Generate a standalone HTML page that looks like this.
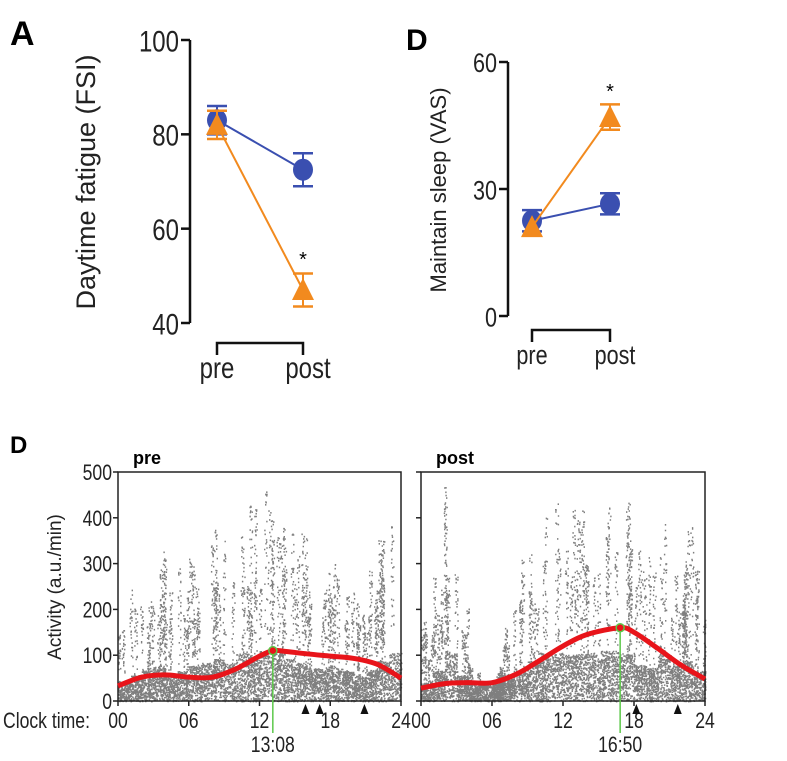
<!DOCTYPE html>
<html><head><meta charset="utf-8"><style>
body{margin:0;background:#fff;width:787px;height:761px;overflow:hidden}
svg{display:block;font-family:"Liberation Sans",sans-serif}
</style></head><body>
<svg id="fig" width="787" height="761">
<text x="10" y="45" font-size="34" font-weight="bold">A</text>
<text x="406" y="50" font-size="30" font-weight="bold">D</text>
<text x="10" y="453" font-size="24" font-weight="bold">D</text>
<g id="pa"></g>
<g id="pd"></g>
<g id="act"></g>
</svg>
<script>
const NS="http://www.w3.org/2000/svg";
function mk(p,t,a){const e=document.createElementNS(NS,t);for(const k in a)e.setAttribute(k,a[k]);p.appendChild(e);return e;}
const SX=0.8;
function txt(p,x,y,str,size,anchor,rot){
 const a={x:x/SX,y:y,"font-size":size,fill:"#222","text-anchor":anchor||"start",transform:`scale(${SX},1)`};
 const t=mk(p,"text",a);t.textContent=str;return t;}
// Panel A data
const groups=["pre","post"];
const fatigueBlue=[83,72.5], fatigueBlueErr=[3,3.5];
const fatigueOrange=[82,47], fatigueOrangeErr=[3,3.5];
const fatigueTicks=[40,60,80,100];
// Panel D data
const sleepBlue=[22.5,26.5], sleepBlueErr=[2.5,2.5];
const sleepOrange=[21,47], sleepOrangeErr=[0,3];
const sleepTicks=[0,30,60];
// Activity data
const hours=[0,2,4,6,8,10,12,13.13,14,16,18,20,22,24];
const preCurve=[33,52,57,52,52,70,98,110,109,103,98,93,80,50];
const hoursPost=[0,2,4,6,8,10,12,14,16.83,18,20,22,24];
const postCurve=[28,38,40,40,58,88,120,145,160,150,115,78,48];
const preMarkers=[15.9,17.1,20.9], postMarkers=[18.2,21.7];
const preSpike=[200,260,320,340,250,300,350,380,420,380,480,440,460,480,420,380,330,320,340,300,250,310,400,480];
const postSpike=[180,300,480,260,100,60,80,230,330,400,480,480,460,470,480,500,500,480,360,330,480,350,400,300];
const tickHours=[0,6,12,18,24], tickHourLabels=["00","06","12","18","24"];
const actTicks=[0,100,200,300,400,500];

function dotPanel(g,opts){
 const ymin=opts.ticks[0],ymax=opts.ticks[opts.ticks.length-1];
 const sy=v=>opts.y0+(opts.y1-opts.y0)*(v-ymin)/(ymax-ymin);
 const ax=opts.ax;
 mk(g,"line",{x1:ax,y1:sy(ymin),x2:ax,y2:sy(ymax),stroke:"#111","stroke-width":2.5});
 opts.ticks.forEach(t=>{mk(g,"line",{x1:ax-9,x2:ax,y1:sy(t),y2:sy(t),stroke:"#111","stroke-width":2.5});
  const tx=txt(g,ax-11,sy(t)+opts.fs*0.38,String(t),opts.fs,"end");
  
  });
 const px=opts.px;
 const series=[[opts.blue,opts.blueErr,"#3a4fb0","circle"],[opts.orange,opts.orangeErr,"#f28a1e","tri"]];
 series.forEach(([v,e,c,shape])=>{
  mk(g,"polyline",{points:v.map((d,i)=>px[i]+","+sy(d)).join(" "),fill:"none",stroke:c,"stroke-width":2});
  v.forEach((d,i)=>{
   if(e[i]>0){mk(g,"line",{x1:px[i],x2:px[i],y1:sy(d-e[i]),y2:sy(d+e[i]),stroke:c,"stroke-width":2});
    [d-e[i],d+e[i]].forEach(w=>mk(g,"line",{x1:px[i]-10,x2:px[i]+10,y1:sy(w),y2:sy(w),stroke:c,"stroke-width":2.5}));}
   let m;
   if(shape=="circle")m=mk(g,"ellipse",{cx:px[i],cy:sy(d),rx:10,ry:11,fill:c});
   else m=mk(g,"polygon",{points:`${px[i]-11},${sy(d)+10} ${px[i]+11},${sy(d)+10} ${px[i]},${sy(d)-12}`,fill:c});
   
   
  });
 });
 const st=mk(g,"text",{x:px[1],y:opts.star,"text-anchor":"middle","font-size":20});st.textContent="*";
 
 
 const b=opts.br;
 mk(g,"polyline",{points:`${px[0]},${b+12} ${px[0]},${b} ${px[1]},${b} ${px[1]},${b+12}`,fill:"none",stroke:"#111","stroke-width":2.5});
 groups.forEach((n,i)=>{const t=txt(g,px[i]+(i?5:0),opts.ly,n,opts.lfs,"middle");
  
  });
 const yl=mk(g,"text",{transform:`translate(${opts.ylx},${opts.yly}) rotate(-90)`,"text-anchor":"middle","font-size":opts.yfs,fill:"#222"});yl.textContent=opts.ylab;
 
 
}
dotPanel(document.getElementById("pa"),{y0:323,y1:40,ax:190,ticks:fatigueTicks,fs:30,px:[217,303],
 blue:fatigueBlue,blueErr:fatigueBlueErr,orange:fatigueOrange,orangeErr:fatigueOrangeErr,star:266,br:343,ly:378,lfs:30,
 ylx:95,yly:182,yfs:27,ylab:"Daytime fatigue (FSI)"});
dotPanel(document.getElementById("pd"),{y0:316,y1:62,ax:508,ticks:sleepTicks,fs:27,px:[532,610],
 blue:sleepBlue,blueErr:sleepBlueErr,orange:sleepOrange,orangeErr:sleepOrangeErr,star:98,br:330,ly:364,lfs:27,
 ylx:446,yly:190,yfs:22,ylab:"Maintain sleep (VAS)"});

// activity panels
const A=document.getElementById("act");
function actPanel(x0,x1,title,hrs,curve,spikes,markers,peakLbl,showY){
 const y0=701,y1=472;
 const sx=h=>x0+(x1-x0)*h/24, sy=v=>y0+(y1-y0)*v/500;
 const g=mk(A,"g",{});
 
 
 let s=title=="pre"?7:13; const rnd=()=>{s=(s*16807)%2147483647;return s/2147483647;};
 let d="";
 for(let i=0;i<5000;i++){const h=rnd()*24,hi=Math.min(23,Math.floor(h));
  const low=Math.max(40,Math.min(110,spikes[hi]*0.22));
  const v=Math.pow(rnd(),0.9)*low;
  d+=`M${sx(h).toFixed(1)} ${sy(v).toFixed(1)}h1.5v1.5h-1.5z`;}
 for(let k=0;k<90;k++){const h=rnd()*24,hi=Math.min(23,Math.floor(h));const top=spikes[hi]*(0.5+0.5*rnd());
  for(let j=0;j<30;j++){const hh=h+(rnd()-0.5)*0.25;const v=Math.min(495,top*Math.sqrt(rnd()));
   d+=`M${sx(Math.max(0,Math.min(24,hh))).toFixed(1)} ${sy(v).toFixed(1)}h1.4v1.6h-1.4z`;}}
 mk(g,"path",{d:d,fill:"#7f7f7f"});
 mk(g,"rect",{x:x0,y:y1,width:x1-x0,height:y0-y1,fill:"none",stroke:"#222","stroke-width":1.5});
 actTicks.forEach(t=>{mk(g,"line",{x1:x0-5,x2:x0,y1:sy(t),y2:sy(t),stroke:"#222","stroke-width":1.5});
  if(showY){const tx=txt(g,x0-6,sy(t)+8,String(t),22,"end");
   
   }});
 tickHours.forEach((h,i)=>{mk(g,"line",{x1:sx(h),x2:sx(h),y1:y0,y2:y0+5,stroke:"#222","stroke-width":1.5});
  const tx=txt(g,sx(h),728,tickHourLabels[i],22,"middle");
  
  });
 const P=hrs.map((h,i)=>[sx(h),sy(curve[i])]);
 let c=`M${P[0][0]},${P[0][1]}`;
 for(let i=0;i<P.length-1;i++){const p0=P[Math.max(0,i-1)],p1=P[i],p2=P[i+1],p3=P[Math.min(P.length-1,i+2)];
  c+=` C${p1[0]+(p2[0]-p0[0])/6},${p1[1]+(p2[1]-p0[1])/6} ${p2[0]-(p3[0]-p1[0])/6},${p2[1]-(p3[1]-p1[1])/6} ${p2[0]},${p2[1]}`;}
 const cv=mk(g,"path",{d:c,fill:"none",stroke:"#e8141a","stroke-width":5});
 
 
 let pk=0;curve.forEach((v,i)=>{if(v>curve[pk])pk=i;});
 const px=sx(hrs[pk]),py=sy(curve[pk]);
 mk(g,"line",{x1:px,x2:px,y1:py,y2:733,stroke:"#5cc84a","stroke-width":1.5});
 const pc=mk(g,"circle",{cx:px,cy:py,r:4,fill:"#e8141a",stroke:"#5cc84a","stroke-width":1.5});
 
 
 const pl=txt(g,px,752,peakLbl,22,"middle");
 
 
 markers.forEach(h=>{const m=mk(g,"polygon",{points:`${sx(h)-4},${y0+13} ${sx(h)+4},${y0+13} ${sx(h)},${y0+3}`,fill:"#111"});
  
  });
 const t=mk(g,"text",{x:x0+15,y:464,"font-size":18,"font-weight":"bold"});t.textContent=title;
 
 
}
actPanel(118,401,"pre",hours,preCurve,preSpike,preMarkers,"13:08",true);
actPanel(421,705,"post",hoursPost,postCurve,postSpike,postMarkers,"16:50",false);
const ct=txt(A,3,728,"Clock time:",22,"start");


const ay=mk(A,"text",{transform:"translate(61,587) rotate(-90)","text-anchor":"middle","font-size":19,fill:"#222"});ay.textContent="Activity (a.u./min)";


</script>
</body></html>
